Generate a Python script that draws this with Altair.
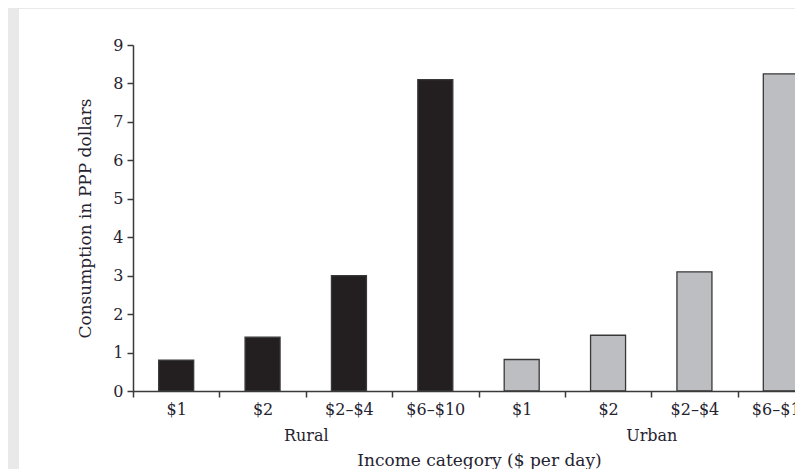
import altair as alt
import pandas as pd

# ---- data ----
groups = ["Rural", "Urban"]
income = ["$1", "$2", "$2–$4", "$6–$10"]
rural_values = [0.8, 1.4, 3.0, 8.1]
urban_values = [0.82, 1.45, 3.1, 8.25]
y_ticks = [0, 1, 2, 3, 4, 5, 6, 7, 8, 9]

rows = []
for g, vals in zip(groups, [rural_values, urban_values]):
    for inc, v in zip(income, vals):
        rows.append({"group": g, "income": inc, "key": g + "|" + inc, "value": v})
df = pd.DataFrame(rows)
keys = list(df["key"])
group_df = pd.DataFrame({"group": groups})

FONT = "DejaVu Serif"
TXT = "#262330"
AXC = "#3a3a3a"
FULL = 691  # full band range; the right part falls outside the picture

# white paper panel (decoration)
panel = alt.Chart(alt.Data(values=[{}])).mark_rect(color="white").encode(
    x=alt.value(-114), x2=alt.value(1000), y=alt.value(-36), y2=alt.value(700)
)

bars = alt.Chart(df).mark_bar(size=35, stroke="#383838", strokeWidth=1.3).encode(
    x=alt.X("key:N", sort=keys,
            scale=alt.Scale(paddingInner=0, paddingOuter=0, range=[0, FULL]),
            axis=alt.Axis(title=None, labelExpr="split(datum.label, '|')[1]",
                          tickBand="extent", labelAngle=0, tickSize=6,
                          labelPadding=4, domainColor=AXC, tickColor=AXC,
                          domainWidth=1.5, tickWidth=1.5, orient="bottom",
                          zindex=1)),
    y=alt.Y("value:Q", scale=alt.Scale(domain=[0, 9], nice=False),
            axis=alt.Axis(title="Consumption in PPP dollars", values=y_ticks,
                          grid=False, tickSize=6, labelPadding=4,
                          titlePadding=18, titleFontSize=17,
                          domainColor=AXC, tickColor=AXC,
                          domainWidth=1.5, tickWidth=1.5, zindex=1)),
    color=alt.Color("group:N", scale=alt.Scale(domain=groups,
                                               range=["#231f20", "#bdbec1"]),
                    legend=None),
)

group_axis = alt.Chart(group_df).mark_point(opacity=0).encode(
    x=alt.X("group:N", sort=groups,
            scale=alt.Scale(paddingInner=0, paddingOuter=0, range=[0, FULL]),
            axis=alt.Axis(title="Income category ($ per day)", orient="bottom",
                          domain=False, ticks=False, tickSize=0, labelAngle=0,
                          labelPadding=36, titlePadding=9, titleX=346,
                          titleFontSize=17, zindex=1)),
    y=alt.value(0),
)

chart = alt.layer(panel, bars, group_axis).resolve_scale(x="independent").properties(
    width=662, height=346,
    autosize=alt.AutoSizeParams(type="none"),
    padding={"left": 125, "top": 37, "right": 0, "bottom": 78},
    background="#e9e9e9",
).configure_view(stroke=None).configure_axis(
    labelFont=FONT, titleFont=FONT, labelFontSize=16, titleFontSize=16,
    labelColor=TXT, titleColor=TXT, titleFontWeight="normal",
)

chart.save("out.html", embed_options={"renderer": "svg", "actions": False})
